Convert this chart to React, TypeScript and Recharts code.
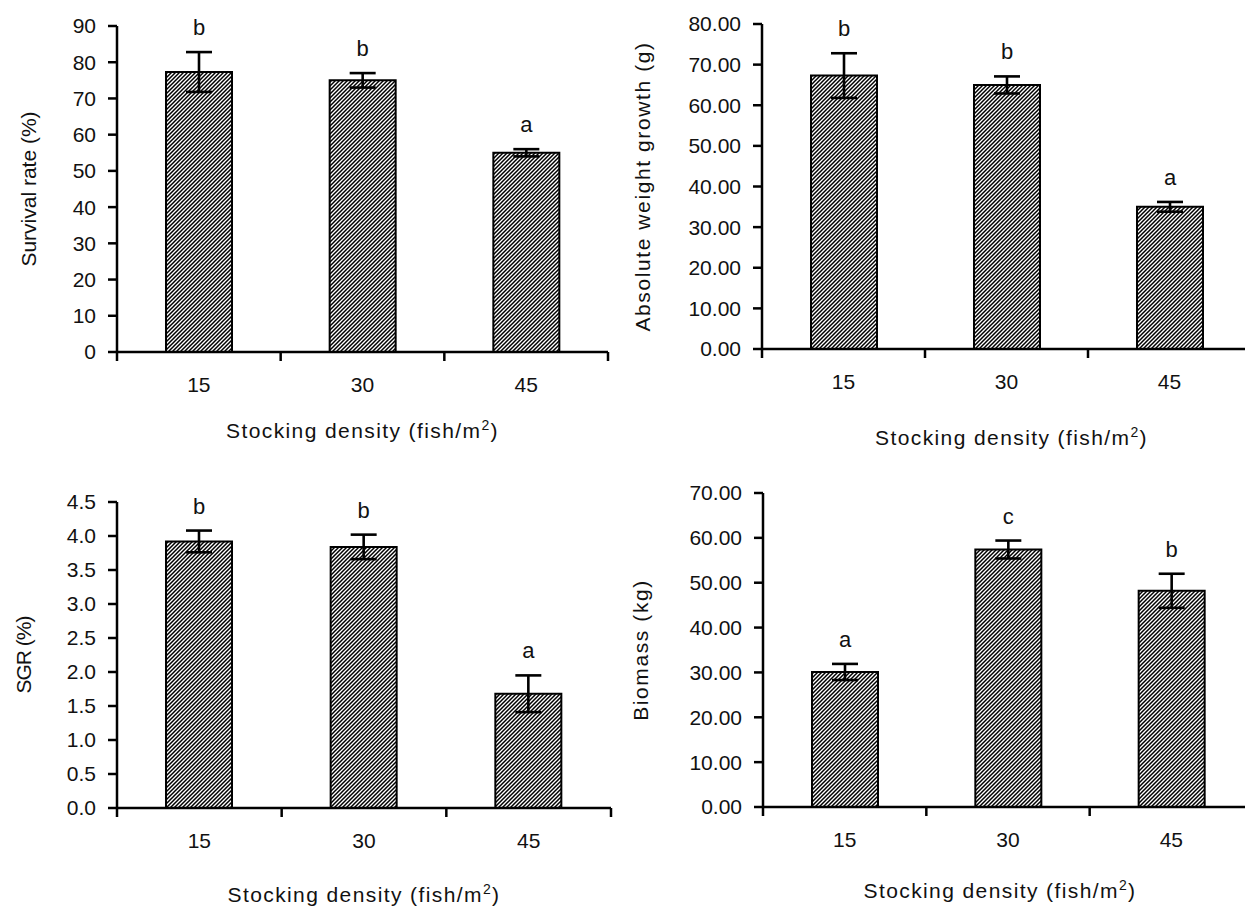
import React from 'react';
import { BarChart, Bar, XAxis, YAxis, ErrorBar, LabelList, Label } from 'recharts';

// stocking density groups (fish/m2)
const densities = ['15', '30', '45'];

const survival = [77.3, 75.0, 55.0];
const survivalSe = [5.5, 2.0, 1.0];
const survivalGroups = ['b', 'b', 'a'];
const survivalTicks = [0, 10, 20, 30, 40, 50, 60, 70, 80, 90];

const weightGain = [67.3, 65.0, 35.0];
const weightGainSe = [5.5, 2.1, 1.2];
const weightGainGroups = ['b', 'b', 'a'];
const weightGainTicks = [0, 10, 20, 30, 40, 50, 60, 70, 80];

const sgr = [3.92, 3.84, 1.68];
const sgrSe = [0.16, 0.18, 0.27];
const sgrGroups = ['b', 'b', 'a'];
const sgrTicks = [0, 0.5, 1, 1.5, 2, 2.5, 3, 3.5, 4, 4.5];

const biomass = [30.1, 57.4, 48.2];
const biomassSe = [1.8, 2.0, 3.8];
const biomassGroups = ['a', 'c', 'b'];
const biomassTicks = [0, 10, 20, 30, 40, 50, 60, 70];

const FONT = '"Liberation Sans", Arial, sans-serif';
const INK = '#111';

interface Row {
  density: string;
  value: number;
  se: number;
  group: string;
}

const toRows = (values: number[], se: number[], groups: string[]): Row[] =>
  densities.map((d, i) => ({ density: d, value: values[i], se: se[i], group: groups[i] }));

interface PanelProps {
  left: number;
  top: number;
  width: number;
  height: number;
  margin: { top: number; right: number; left: number; bottom: number };
  yWidth: number;
  xHeight: number;
  rows: Row[];
  ticks: number[];
  digits: number;
  yTitle: string;
  yTitleX: number;
  yTitleSpacing?: number;
  xTitleDy: number;
  xTitleDx?: number;
}

const Panel = ({
  left, top, width, height, margin, yWidth, xHeight, rows, ticks, digits,
  yTitle, yTitleX, yTitleSpacing = 0, xTitleDy, xTitleDx = 0,
}: PanelProps) => {
  const plotW = width - margin.left - margin.right - yWidth;
  const plotH = height - margin.top - margin.bottom - xHeight;
  const band = plotW / rows.length;
  const plotBottom = margin.top + plotH;

  const densityTick = (props: any) => {
    const { x, y, payload, index } = props;
    const last = index === rows.length - 1;
    return (
      <g>
        <line x1={x - band / 2} x2={x - band / 2} y1={y} y2={y + 9} stroke="#000" strokeWidth={2.5} />
        {last && <line x1={x + band / 2} x2={x + band / 2} y1={y} y2={y + 9} stroke="#000" strokeWidth={2.5} />}
        <text x={x} y={y + 40} textAnchor="middle" fill={INK} fontSize={21} fontFamily={FONT}>
          {payload.value}
        </text>
      </g>
    );
  };

  const groupLetter = (p: any) => {
    const vb = p.viewBox ?? p;
    const x = vb.x ?? p.x;
    const y = vb.y ?? p.y;
    const w = vb.width ?? p.width;
    const h = vb.height ?? p.height;
    const row = rows[p.index];
    const perUnit = h / row.value;
    const errTop = y - row.se * perUnit;
    return (
      <text x={x + w / 2} y={errTop - 17} textAnchor="middle" fill={INK} fontSize={22} fontFamily={FONT}>
        {p.value}
      </text>
    );
  };

  return (
    <div style={{ position: 'absolute', left, top }}>
      <BarChart width={width} height={height} data={rows} margin={margin}>
        <XAxis
          dataKey="density"
          height={xHeight}
          interval={0}
          tickSize={0}
          tickMargin={0}
          tickLine={false}
          axisLine={{ stroke: '#000', strokeWidth: 2.5 }}
          tick={densityTick}
        >
          <Label
            content={() => (
              <text
                x={margin.left + yWidth + plotW / 2 + xTitleDx}
                y={plotBottom + xTitleDy}
                textAnchor="middle"
                fill={INK}
                fontSize={21}
                fontFamily={FONT}
                letterSpacing={1.4}
              >
                <tspan>Stocking density (fish/m</tspan>
                <tspan dy={-8} fontSize={14}>2</tspan>
                <tspan dy={8}>)</tspan>
              </text>
            )}
          />
        </XAxis>
        <YAxis
          type="number"
          width={yWidth}
          domain={[ticks[0], ticks[ticks.length - 1]]}
          ticks={ticks}
          interval={0}
          allowDataOverflow
          tickFormatter={(v: number) => v.toFixed(digits)}
          axisLine={{ stroke: '#000', strokeWidth: 2.5 }}
          tickLine={{ stroke: '#000', strokeWidth: 2.5 }}
          tickSize={9}
          tickMargin={12}
          tick={{ fill: INK, fontSize: 21, fontFamily: FONT }}
        >
          <Label
            content={() => {
              const cy = margin.top + plotH / 2;
              return (
                <text
                  x={yTitleX}
                  y={cy}
                  transform={`rotate(-90 ${yTitleX} ${cy})`}
                  textAnchor="middle"
                  dominantBaseline="central"
                  fill={INK}
                  fontSize={21}
                  fontFamily={FONT}
                  letterSpacing={yTitleSpacing}
                >
                  {yTitle}
                </text>
              );
            }}
          />
        </YAxis>
        <Bar
          dataKey="value"
          fill="url(#hatch)"
          stroke="#000"
          strokeWidth={2}
          barSize={66}
          isAnimationActive={false}
        >
          <ErrorBar dataKey="se" width={13} strokeWidth={2.6} stroke="#000" direction="y" />
          <LabelList dataKey="group" content={groupLetter} />
        </Bar>
      </BarChart>
    </div>
  );
};

export default function App() {
  return (
    <div
      style={{
        position: 'absolute',
        left: 0,
        top: 0,
        width: 1245,
        height: 908,
        overflow: 'hidden',
        background: '#fff',
      }}
    >
      <svg width={0} height={0} style={{ position: 'absolute' }}>
        <defs>
          <pattern id="hatch" patternUnits="userSpaceOnUse" width={4} height={4}>
            <rect width={4} height={4} fill="#fff" />
            <path d="M-1,1 l2,-2 M0,4 l4,-4 M3,5 l2,-2" stroke="#000" strokeWidth={1.5} />
          </pattern>
        </defs>
      </svg>

      <Panel
        left={0}
        top={0}
        width={620}
        height={450}
        margin={{ top: 26, right: 12, left: 0, bottom: 0 }}
        yWidth={117}
        xHeight={98}
        rows={toRows(survival, survivalSe, survivalGroups)}
        ticks={survivalTicks}
        digits={0}
        yTitle="Survival rate (%)"
        yTitleX={28}
        xTitleDy={86}
      />
      <Panel
        left={620}
        top={0}
        width={640}
        height={450}
        margin={{ top: 24, right: 9, left: 0, bottom: 0 }}
        yWidth={142}
        xHeight={101}
        rows={toRows(weightGain, weightGainSe, weightGainGroups)}
        ticks={weightGainTicks}
        digits={2}
        yTitle="Absolute weight growth (g)"
        yTitleX={22}
        yTitleSpacing={1.6}
        xTitleDy={96}
        xTitleDx={5}
      />
      <Panel
        left={0}
        top={450}
        width={620}
        height={458}
        margin={{ top: 52, right: 9, left: 0, bottom: 0 }}
        yWidth={117}
        xHeight={100}
        rows={toRows(sgr, sgrSe, sgrGroups)}
        ticks={sgrTicks}
        digits={1}
        yTitle="SGR (%)"
        yTitleX={23}
        yTitleSpacing={-1}
        xTitleDy={94}
      />
      <Panel
        left={620}
        top={450}
        width={640}
        height={458}
        margin={{ top: 43, right: 7, left: 0, bottom: 0 }}
        yWidth={143}
        xHeight={101}
        rows={toRows(biomass, biomassSe, biomassGroups)}
        ticks={biomassTicks}
        digits={2}
        yTitle="Biomass (kg)"
        yTitleX={20}
        yTitleSpacing={1.6}
        xTitleDy={91}
        xTitleDx={-8}
      />
    </div>
  );
}
